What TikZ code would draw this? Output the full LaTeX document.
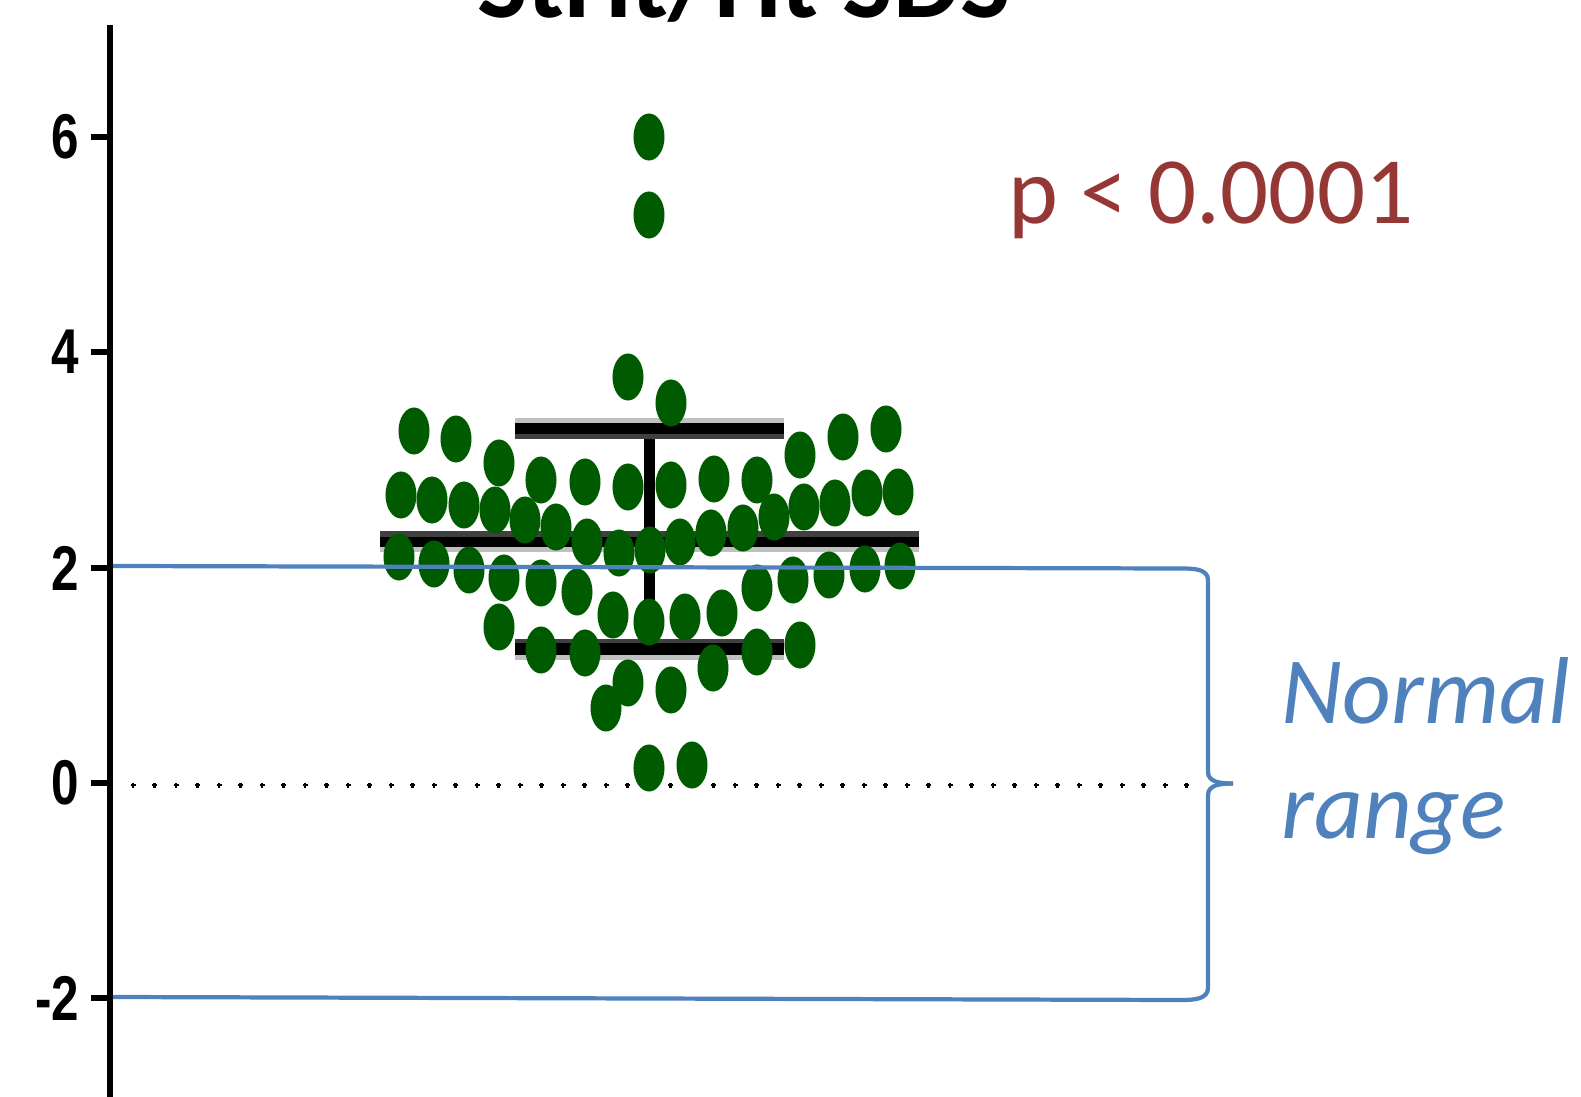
\documentclass[tikz,border=0pt]{standalone}
\usepackage{fontspec}
\usepackage{graphicx}
\setmainfont{Carlito}
\newfontfamily\tickfont{Liberation Sans}
\definecolor{dotgreen}{RGB}{0,90,0}
\definecolor{rangeblue}{RGB}{79,129,189}
\definecolor{pred}{RGB}{149,55,53}
\definecolor{darkbar}{RGB}{64,64,64}
\definecolor{lightbar}{RGB}{192,192,192}
\tikzset{
  ticklab/.style={anchor=east, inner sep=0pt, font=\tickfont\bfseries\fontsize{18}{21}\selectfont},
  rangeline/.style={draw=rangeblue, line width=1.2pt},
  greendot/.style={fill=dotgreen},
}
\begin{document}
\begin{tikzpicture}[x=0.01cm,y=-0.01cm]
\clip (0,0) rectangle (1581,1097);
\fill[white] (0,0) rectangle (1581,1097);
% title (cut off at top, as in the reference)
\node[anchor=base, inner sep=0pt, font=\fontsize{30.3}{36}\selectfont\bfseries] (title) at (744,18) {StHt/Ht SDS};
% zero dotted line
\foreach \i in {0,...,49} {
  \fill[black] ({133+21.5*\i-2.5},783.8) rectangle +(5,2.4);
  \fill[black] ({133+21.5*\i-1.2},782.5) rectangle +(2.4,5);
}
% whisker
\fill[black] (644,430) rectangle (655,650);
% upper SD bar
\fill[lightbar] (515,418) rectangle (784,423);
\fill[black] (515,423) rectangle (784,434);
\fill[darkbar] (515,434) rectangle (784,439);
% mean bar
\fill[darkbar] (380,531) rectangle (919,537);
\fill[black] (380,537) rectangle (919,547);
\fill[lightbar] (380,547) rectangle (919,552);
% lower SD bar
\fill[darkbar] (515,639) rectangle (784,643);
\fill[black] (515,643) rectangle (784,655);
\fill[lightbar] (515,655) rectangle (784,660);
% data points
\foreach \px/\py in {649/137, 649/215,
  628/377, 671/403,
  414/431, 456/439, 499/463, 800/455, 843/437, 886/429,
  401/495, 432/500, 464/505, 541/480, 585/482, 628/487, 671/485, 714/479, 757/480, 804/507, 835/503, 867/493, 898/492,
  495/510, 525/520, 556/527, 587/542, 619/553, 650/550, 680/542, 711/533, 743/528, 774/517,
  399/557, 434/564, 469/570, 504/578, 541/583, 577/592, 757/588, 793/580, 829/575, 865/569, 900/566,
  499/627, 613/615, 649/622, 685/617, 722/613,
  541/650, 585/653, 713/668, 757/652, 800/645,
  628/683, 606/708, 671/690,
  649/768, 692/765} {
  \fill[greendot] (\px,\py) ellipse [x radius=0.155cm, y radius=0.235cm];
}
% normal range lines and brace
\draw[rangeline] (113,566) -- (1181,568.5);
\draw[rangeline] (113,997) -- (1181,1000);
\draw[rangeline] (1181,568.5) to[out=0,in=90] (1208,580) -- (1208,772) to[out=-90,in=180] (1233,783.5);
\draw[rangeline] (1233,783.5) to[out=180,in=90] (1208,795) -- (1208,988) to[out=-90,in=0] (1181,1000);
% axis
\draw[line width=1.8pt] (110,25) -- (110,1100);
\foreach \ty in {137,352,568,783,998} {
  \draw[line width=1.5pt] (91,\ty) -- (110,\ty);
}
\node[ticklab] (l6) at (80,137) {\scalebox{0.78}[1]{6}};
\node[ticklab] (l4) at (80,352) {\scalebox{0.78}[1]{4}};
\node[ticklab] (l2) at (80,568) {\scalebox{0.78}[1]{2}};
\node[ticklab] (l0) at (80,783) {\scalebox{0.78}[1]{0}};
\node[ticklab] (lm2) at (80,998) {\scalebox{0.78}[1]{-2}};
% texts
\node[anchor=base west, inner sep=0pt, font=\fontsize{27}{32}\selectfont, text=pred] (pval) at (1008,224) {p < 0.0001};
\node[anchor=base west, inner sep=0pt, font=\itshape\fontsize{27}{32}\selectfont, text=rangeblue] (normal) at (1281,723) {Normal};
\node[anchor=base west, inner sep=0pt, font=\itshape\fontsize{27}{32}\selectfont, text=rangeblue] (range) at (1281,838) {range};
\end{tikzpicture}
\end{document}
